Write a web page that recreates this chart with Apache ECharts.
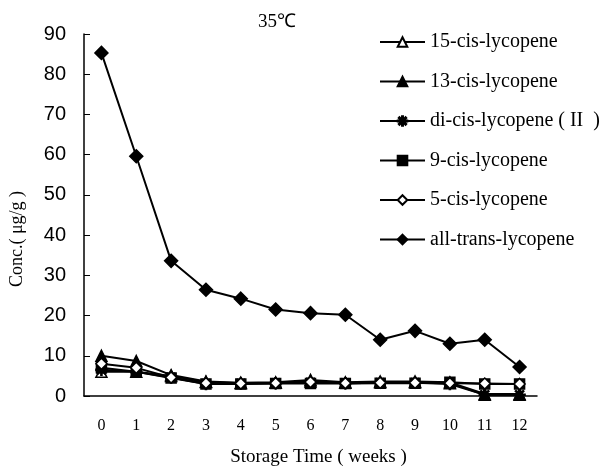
<!DOCTYPE html>
<html lang="en">
<head>
    <meta charset="UTF-8">
    <title>35℃</title>
    <script src="https://cdn.jsdelivr.net/npm/echarts@6/dist/echarts.min.js"></script>
    <style>
        html, body { margin: 0; padding: 0; background: #fff; }
        #main { width: 608px; height: 472px; }
    </style>
</head>
<body>
<div id="main"></div>
<script>
    // 数据
    var weeks = ['0', '1', '2', '3', '4', '5', '6', '7', '8', '9', '10', '11', '12'];
    var names = ['15-cis-lycopene', '13-cis-lycopene', 'di-cis-lycopene ( II  )', '9-cis-lycopene', '5-cis-lycopene', 'all-trans-lycopene'];
    var cis15 = [6.0, 6.0, 5.0, 3.5, 3.2, 3.3, 3.6, 3.3, 3.4, 3.4, 3.2, 0.3, 0.3];
    var cis13 = [10.0, 8.7, 5.2, 3.6, 3.3, 3.4, 4.0, 3.4, 3.6, 3.6, 3.4, 0.5, 0.5];
    var dicis = [6.5, 6.0, 4.6, 3.0, 3.1, 3.2, 3.4, 3.2, 3.3, 3.3, 3.0, 0.3, 0.3];
    var cis9 = [7.0, 6.0, 4.5, 3.0, 3.0, 3.1, 3.1, 3.1, 3.2, 3.2, 3.4, 3.0, 3.0];
    var cis5 = [8.0, 7.0, 4.6, 3.2, 3.1, 3.2, 3.5, 3.2, 3.3, 3.3, 3.2, 3.1, 3.0];
    var allTrans = [85.3, 59.6, 33.6, 26.4, 24.2, 21.5, 20.6, 20.2, 14.0, 16.2, 13.0, 14.0, 7.2];
    var yTicks = [0, 10, 20, 30, 40, 50, 60, 70, 80, 90];

    // 星号标记
    var starPath = 'path://M-1,-10L1,-10L1,10L-1,10Z M-10,-1L10,-1L10,1L-10,1Z M-7.8,-6.4L-6.4,-7.8L7.8,6.4L6.4,7.8Z M6.4,-7.8L7.8,-6.4L-6.4,7.8L-7.8,6.4Z';

    function mk(name, data, symbol, size, fill) {
        return {
            name: name,
            type: 'line',
            data: data,
            symbol: symbol,
            symbolSize: size,
            showAllSymbol: true,
            lineStyle: {color: '#000', width: 2},
            itemStyle: {color: fill, borderColor: '#000', borderWidth: 1.5},
            emphasis: {disabled: true}
        };
    }

    var chart = echarts.init(document.getElementById('main'));
    var option = {
        animation: false,
        backgroundColor: '#fff',
        title: {
            text: '35℃',
            left: 253,
            top: 8,
            textStyle: {fontFamily: 'Liberation Serif', fontSize: 19, fontWeight: 'normal', color: '#000'}
        },
        grid: {left: 84, right: 71, top: 34, bottom: 69},
        legend: {
            orient: 'vertical',
            left: 374,
            top: 27,
            itemWidth: 45,
            itemHeight: 12,
            itemGap: 19.5,
            textStyle: {fontFamily: 'Liberation Serif', fontSize: 20, color: '#000'},
            data: names
        },
        xAxis: {
            type: 'category',
            data: weeks,
            boundaryGap: true,
            name: 'Storage Time ( weeks )',
            nameLocation: 'middle',
            nameGap: 52,
            nameTextStyle: {fontFamily: 'Liberation Serif', fontSize: 19, color: '#000', padding: [0, 0, 0, 16]},
            axisLine: {lineStyle: {color: '#000', width: 1.5}},
            axisTick: {inside: true, length: 6, lineStyle: {color: '#000'}},
            axisLabel: {color: '#000', fontFamily: 'Liberation Serif', fontSize: 16, margin: 22}
        },
        yAxis: {
            type: 'value',
            min: 0,
            max: 90,
            interval: 10,
            name: 'Conc.( μg/g )',
            nameLocation: 'middle',
            nameGap: 58,
            nameTextStyle: {fontFamily: 'Liberation Serif', fontSize: 18, color: '#000', padding: [0, 48, 0, 0]},
            splitLine: {show: false},
            axisLine: {show: true, lineStyle: {color: '#000', width: 1.5}},
            axisTick: {show: true, inside: true, length: 6, lineStyle: {color: '#000'}},
            axisLabel: {
                color: '#000', fontFamily: 'Liberation Sans Narrow, Liberation Sans', fontSize: 20, margin: 18,
                formatter: function (v) { return yTicks.indexOf(v) >= 0 ? String(v) : ''; }
            }
        },
        series: [
            mk(names[0], cis15, 'triangle', 11, '#fff'),
            mk(names[1], cis13, 'triangle', 11, '#000'),
            mk(names[2], dicis, starPath, 11, '#000'),
            mk(names[3], cis9, 'rect', 10, '#000'),
            mk(names[4], cis5, 'diamond', 11, '#fff'),
            mk(names[5], allTrans, 'diamond', 13, '#000')
        ]
    };
    chart.setOption(option);
</script>
</body>
</html>
